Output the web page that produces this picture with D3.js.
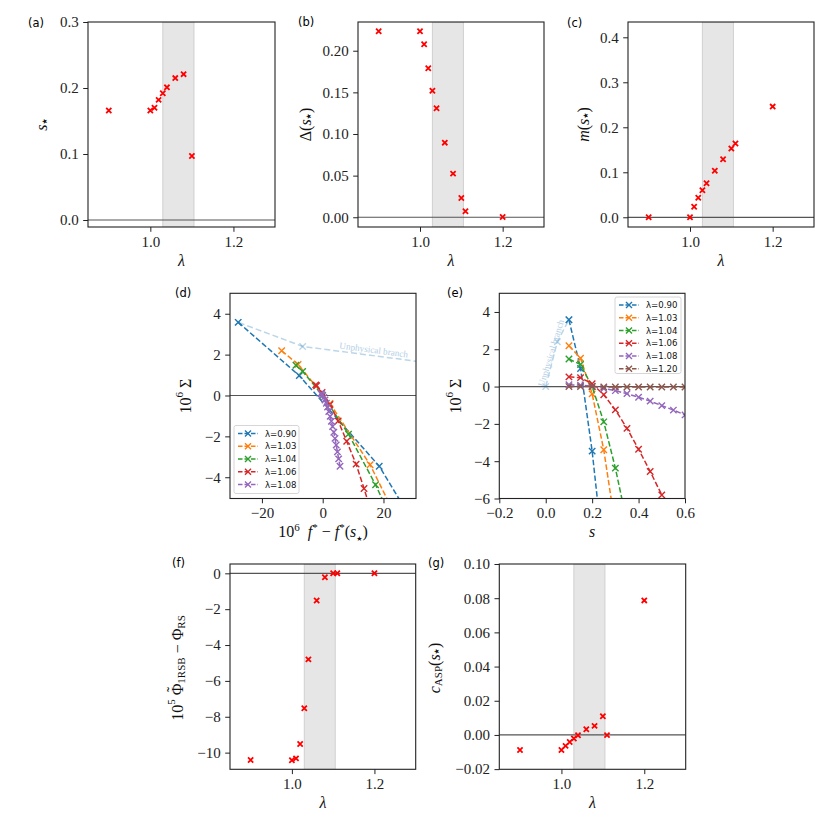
<!DOCTYPE html>
<html>
<head>
<meta charset="utf-8">
<script src="https://cdn.jsdelivr.net/npm/d3@7"></script>
<style>
body{margin:0;background:#fff}
</style>
</head>
<body>
<svg id="fig" width="830" height="830"></svg>
<script>
// ---- data ----
var lamA = [0.90, 1.00, 1.01, 1.02, 1.03, 1.04, 1.06, 1.08, 1.10];
var sStar = [0.166, 0.166, 0.170, 0.182, 0.192, 0.201, 0.215, 0.221, 0.097];

var lamB = [0.90, 1.00, 1.01, 1.02, 1.03, 1.04, 1.06, 1.08, 1.10, 1.11, 1.20];
var deltaS = [0.2233, 0.2233, 0.2077, 0.179, 0.152, 0.131, 0.0896, 0.0524, 0.0232, 0.0072, 0.0003];
var magS = [0.0, 0.0, 0.0236, 0.0436, 0.060, 0.0756, 0.1036, 0.129, 0.153, 0.164, 0.246];
var phiDiff = [-10.41, -10.43, -10.32, -9.52, -7.53, -4.80, -1.52, -0.22, 0.0, 0.0, 0.0];
var cAsp = [-0.0088, -0.0088, -0.0064, -0.0041, -0.0021, -0.0002, 0.0033, 0.0053, 0.0109, -0.0001, 0.0787];

var band = [1.03, 1.105];

// complexity curves: s, 10^6 Sigma, 10^6 (f* - f*(s*))
var s090 = [0.10, 0.15, 0.20, 0.25];
var sig090 = [3.58, 0.97, -3.46, -9.2];
var f090 = [-27.8, -7.7, 18.6, 42.0];

var s090u = [0.0, 0.05, 0.10];
var sig090u = [0.0, 2.40, 3.58];
var f090u = [117.0, -6.6, -27.8];

var s103 = [0.10, 0.15, 0.20, 0.25, 0.30];
var sig103 = [2.19, 1.52, -0.39, -3.39, -7.5];
var f103 = [-13.5, -8.1, 2.4, 15.6, 29.3];

var s104 = [0.10, 0.15, 0.20, 0.25, 0.30, 0.35];
var sig104 = [1.48, 1.18, 0.0, -1.89, -4.37, -7.3];
var f104 = [-8.8, -6.6, 0.0, 8.5, 17.4, 26.5];

var s106 = [0.10, 0.15, 0.20, 0.25, 0.30, 0.35, 0.40, 0.45, 0.50];
var sig106 = [0.52, 0.48, 0.15, -0.44, -1.25, -2.24, -3.36, -4.55, -5.81];
var f106 = [-2.3, -2.0, -0.2, 2.4, 5.1, 7.9, 11.0, 13.6, 16.2];

var s108 = [0.10, 0.15, 0.20, 0.25, 0.30, 0.35, 0.40, 0.45, 0.50, 0.55, 0.60, 0.65, 0.70, 0.75, 0.80, 0.85, 0.90];
var sig108 = [0.10, 0.08, 0.02, -0.10, -0.22, -0.38, -0.57, -0.78, -1.02, -1.26, -1.52, -1.80, -2.10, -2.42, -2.76, -3.10, -3.46];
var f108 = [-0.6, -0.4, -0.1, 0.35, 0.75, 1.2, 1.6, 2.0, 2.45, 2.85, 3.25, 3.65, 4.05, 4.45, 4.85, 5.25, 5.7];

var s120 = [0.10, 0.15, 0.20, 0.25, 0.30, 0.35, 0.40, 0.45, 0.50, 0.55, 0.60];
var sig120 = [0.0, 0.0, 0.0, -0.02, -0.02, -0.02, -0.02, -0.02, -0.02, -0.02, -0.02];

var curves = [
    {label: "λ=0.90", color: "#1f77b4", s: s090, sig: sig090, f: f090},
    {label: "λ=1.03", color: "#ff7f0e", s: s103, sig: sig103, f: f103},
    {label: "λ=1.04", color: "#2ca02c", s: s104, sig: sig104, f: f104},
    {label: "λ=1.06", color: "#d62728", s: s106, sig: sig106, f: f106},
    {label: "λ=1.08", color: "#9467bd", s: s108, sig: sig108, f: f108},
    {label: "λ=1.20", color: "#8c564b", s: s120, sig: sig120, f: null}
];
var unphys = {color: "rgba(31,119,180,0.3)", s: s090u, sig: sig090u, f: f090u};

// ---- helpers ----
var svg = d3.select("#fig");
var defs = svg.append("defs");
var SERIF = "'Liberation Serif','DejaVu Serif',serif";
var SANS = "'DejaVu Sans',sans-serif";

function xPath(r) {
    return "M" + (-r) + "," + (-r) + "L" + r + "," + r + "M" + (-r) + "," + r + "L" + r + "," + (-r);
}

function makePanel(o) {
    var x = d3.scaleLinear().domain(o.xd).range([o.l, o.r]);
    var y = d3.scaleLinear().domain(o.yd).range([o.b, o.t]);
    defs.append("clipPath").attr("id", o.id)
        .append("rect").attr("x", o.l).attr("y", o.t)
        .attr("width", o.r - o.l).attr("height", o.b - o.t);
    var g = svg.append("g");
    var plot = g.append("g").attr("clip-path", "url(#" + o.id + ")");
    return {g: g, plot: plot, x: x, y: y, o: o};
}

function finishPanel(p) {
    var o = p.o;
    var ax = p.g.append("g").attr("transform", "translate(0," + o.b + ")")
        .call(d3.axisBottom(p.x).tickValues(o.xt).tickFormat(o.xf).tickSize(4.8).tickPadding(4.5));
    var ay = p.g.append("g").attr("transform", "translate(" + o.l + ",0)")
        .call(d3.axisLeft(p.y).tickValues(o.yt).tickFormat(o.yf).tickSize(4.8).tickPadding(4.5));
    [ax, ay].forEach(function (a) {
        a.select(".domain").remove();
        a.attr("font-family", SERIF).attr("font-size", 15).attr("color", "#222");
        a.selectAll(".tick line").attr("stroke-width", 1);
    });
    p.g.append("rect").attr("x", o.l).attr("y", o.t)
        .attr("width", o.r - o.l).attr("height", o.b - o.t)
        .attr("fill", "none").attr("stroke", "#222").attr("stroke-width", 1.1);
    // panel tag
    p.g.append("text").attr("x", o.tag[0]).attr("y", o.tag[1])
        .attr("font-family", SANS).attr("font-size", 11.5).text(o.name);
}

// rich text with sub/superscripts; parts: {t, i, off(px, +down), size, font, tilde}
function richText(parent, x, y, parts, size, rotate) {
    var t = parent.append("text").attr("font-family", SERIF).attr("font-size", size)
        .attr("text-anchor", "middle").attr("fill", "#111");
    if (rotate) {
        t.attr("transform", "translate(" + x + "," + y + ") rotate(-90)")
            .attr("dominant-baseline", "central");
    } else {
        t.attr("x", x).attr("y", y);
    }
    var prev = 0, back = 0;
    parts.forEach(function (p) {
        var off = p.off || 0;
        var ts = t.append("tspan").text(p.t).attr("dy", off - prev);
        if (back) { ts.attr("dx", back); back = 0; }
        if (p.i) ts.style("font-style", "italic");
        if (p.size) ts.attr("font-size", p.size);
        if (p.font) ts.attr("font-family", p.font);
        prev = off;
        if (p.tilde) {
            // put a tilde accent centred over the glyph just written
            var w = ts.node().getComputedTextLength();
            var tl = t.append("tspan").text("˜").attr("dy", -4.5);
            var tw = tl.node().getComputedTextLength();
            tl.attr("dx", -(w + tw) / 2);
            prev = off - 4.5;
            back = (w - tw) / 2;
        }
    });
    return t;
}

function shade(p) {
    p.plot.append("rect")
        .attr("x", p.x(band[0])).attr("width", p.x(band[1]) - p.x(band[0]))
        .attr("y", p.o.t).attr("height", p.o.b - p.o.t)
        .attr("fill", "#e6e6e6").attr("stroke", "#d0d0d0").attr("stroke-width", 1);
}

function zeroLine(p) {
    p.plot.append("line")
        .attr("x1", p.o.l).attr("x2", p.o.r)
        .attr("y1", p.y(0)).attr("y2", p.y(0))
        .attr("stroke", "#555").attr("stroke-width", 1.2);
}

function redPoints(p, xs, ys) {
    p.plot.selectAll(null).data(xs).enter().append("path")
        .attr("d", xPath(2.6))
        .attr("transform", function (d, i) { return "translate(" + p.x(d) + "," + p.y(ys[i]) + ")"; })
        .attr("stroke", "red").attr("stroke-width", 1.8).attr("fill", "none");
}

function dashedCurve(p, xs, ys, color, dash) {
    var pts = xs.map(function (d, i) { return [d, ys[i]]; });
    var line = d3.line().x(function (d) { return p.x(d[0]); }).y(function (d) { return p.y(d[1]); });
    p.plot.append("path").datum(pts).attr("d", line)
        .attr("fill", "none").attr("stroke", color).attr("stroke-width", 1.5)
        .attr("stroke-dasharray", dash || "5.5,2.4");
    p.plot.selectAll(null).data(pts).enter().append("path")
        .attr("d", xPath(3.2))
        .attr("transform", function (d) { return "translate(" + p.x(d[0]) + "," + p.y(d[1]) + ")"; })
        .attr("stroke", color).attr("stroke-width", 1.4).attr("fill", "none");
}

function legend(g, x0, y0, w, h, items) {
    g.append("rect").attr("x", x0).attr("y", y0).attr("width", w).attr("height", h)
        .attr("rx", 2).attr("fill", "rgba(255,255,255,0.8)").attr("stroke", "#ccc").attr("stroke-width", 0.8);
    items.forEach(function (it, i) {
        var yy = y0 + 8 + i * 12.75;
        g.append("line").attr("x1", x0 + 4).attr("x2", x0 + 24).attr("y1", yy).attr("y2", yy)
            .attr("stroke", it.color).attr("stroke-width", 1.5).attr("stroke-dasharray", "4.5,2");
        g.append("path").attr("d", xPath(3)).attr("transform", "translate(" + (x0 + 14) + "," + yy + ")")
            .attr("stroke", it.color).attr("stroke-width", 1.4).attr("fill", "none");
        g.append("text").attr("x", x0 + 31).attr("y", yy + 3.2)
            .attr("font-family", SANS).attr("font-size", 8.6).attr("fill", "#111").text(it.label);
    });
}

var f1 = d3.format(".1f"), f2 = d3.format(".2f"), fi = d3.format("d");
var STAR = {t: "★", off: 3.5, size: 7, font: SANS};
var lamLabel = [{t: "λ", i: true}];
var lamDom = [0.85, 1.30];
var UNPHYS_TEXT = "#b4cfe6";

// ---- (a) ----
var pa = makePanel({id: "ca", name: "(a)", tag: [28, 27], l: 88, r: 275, t: 22, b: 227,
    xd: lamDom, yd: [-0.0106, 0.3], xt: [1.0, 1.2], yt: [0, 0.1, 0.2, 0.3], xf: f1, yf: f1});
shade(pa); zeroLine(pa); redPoints(pa, lamA, sStar); finishPanel(pa);
richText(pa.g, 181.5, 266, lamLabel, 16);
richText(pa.g, 41, 124.5, [{t: "s", i: true}, STAR], 16, true);

// ---- (b) ----
var pb = makePanel({id: "cb", name: "(b)", tag: [298, 26], l: 358, r: 544, t: 22, b: 227,
    xd: lamDom, yd: [-0.0117, 0.2345], xt: [1.0, 1.2], yt: [0, 0.05, 0.1, 0.15, 0.2], xf: f1, yf: f2});
shade(pb); zeroLine(pb); redPoints(pb, lamB, deltaS); finishPanel(pb);
richText(pb.g, 451, 266, lamLabel, 16);
richText(pb.g, 305, 124.5, [{t: "Δ("}, {t: "s", i: true}, STAR, {t: ")"}], 16, true);

// ---- (c) ----
var pc = makePanel({id: "cc", name: "(c)", tag: [567, 27], l: 628, r: 814, t: 22, b: 227,
    xd: lamDom, yd: [-0.0216, 0.434], xt: [1.0, 1.2], yt: [0, 0.1, 0.2, 0.3, 0.4], xf: f1, yf: f1});
shade(pc); zeroLine(pc); redPoints(pc, lamB, magS); finishPanel(pc);
richText(pc.g, 721, 266, lamLabel, 16);
richText(pc.g, 582.5, 124.5, [{t: "m", i: true}, {t: "("}, {t: "s", i: true}, STAR, {t: ")"}], 16, true);

// ---- (d) ----
var pd = makePanel({id: "cd", name: "(d)", tag: [175, 297], l: 230, r: 416, t: 293.3, b: 498.5,
    xd: [-30.5, 30.7], yd: [-5.04, 5.0], xt: [-20, 0, 20], yt: [-4, -2, 0, 2, 4], xf: fi, yf: fi});
zeroLine(pd);
dashedCurve(pd, unphys.f, unphys.sig, unphys.color, "6,3");
curves.filter(function (c) { return c.f; }).forEach(function (c) {
    dashedCurve(pd, c.f, c.sig, c.color);
});
pd.plot.append("text")
    .attr("transform", "translate(" + pd.x(5.4) + "," + pd.y(2.3) + ") rotate(7.5)")
    .attr("font-family", SERIF).attr("font-size", 9.2).attr("fill", UNPHYS_TEXT)
    .text("Unphysical branch");
legend(pd.g, 234, 425.5, 65, 68, curves.filter(function (c) { return c.f; }));
finishPanel(pd);
richText(pd.g, 323, 537, [{t: "10"}, {t: "6", off: -6, size: 11}, {t: "\u00a0\u00a0"}, {t: "f", i: true},
    {t: "*", off: -6, size: 11}, {t: " − "}, {t: "f", i: true}, {t: "*", off: -6, size: 11}, {t: "("},
    {t: "s", i: true}, STAR, {t: ")"}], 16);
richText(pd.g, 185, 396, [{t: "10"}, {t: "6", off: -6, size: 11}, {t: " Σ"}], 16, true);

// ---- (e) ----
var pe = makePanel({id: "ce", name: "(e)", tag: [447, 297], l: 499.3, r: 685, t: 293.3, b: 498.5,
    xd: [-0.2, 0.6], yd: [-6, 5], xt: [-0.2, 0, 0.2, 0.4, 0.6], yt: [-6, -4, -2, 0, 2, 4], xf: f1, yf: fi});
zeroLine(pe);
dashedCurve(pe, unphys.s, unphys.sig, unphys.color, "6,3");
curves.forEach(function (c) { dashedCurve(pe, c.s, c.sig, c.color); });
pe.plot.append("text")
    .attr("transform", "translate(" + pe.x(-0.008) + "," + pe.y(-0.02) + ") rotate(-73)")
    .attr("font-family", SERIF).attr("font-size", 9.2).attr("fill", UNPHYS_TEXT)
    .text("Unphysical branch");
legend(pe.g, 615, 297, 66, 76.5, curves);
finishPanel(pe);
richText(pe.g, 592, 537, [{t: "s", i: true}], 16);
richText(pe.g, 455, 396, [{t: "10"}, {t: "6", off: -6, size: 11}, {t: " Σ"}], 16, true);

// ---- (f) ----
var pf = makePanel({id: "cf", name: "(f)", tag: [172, 567], l: 230, r: 415.7, t: 564, b: 769.3,
    xd: lamDom, yd: [-10.93, 0.52], xt: [1.0, 1.2], yt: [-10, -8, -6, -4, -2, 0], xf: f1, yf: fi});
shade(pf); zeroLine(pf); redPoints(pf, lamB, phiDiff); finishPanel(pf);
richText(pf.g, 323, 808, lamLabel, 16);
richText(pf.g, 176.5, 668, [{t: "10"}, {t: "5", off: -6, size: 11}, {t: "\u00a0"}, {t: "Φ", tilde: true},
    {t: "1RSB", off: 4, size: 11}, {t: " − Φ"}, {t: "RS", off: 4, size: 11}], 16, true);

// ---- (g) ----
var pg = makePanel({id: "cg", name: "(g)", tag: [428, 567], l: 499.3, r: 685.7, t: 564, b: 769.3,
    xd: lamDom, yd: [-0.0201, 0.1], xt: [1.0, 1.2], yt: [-0.02, 0, 0.02, 0.04, 0.06, 0.08, 0.1], xf: f1, yf: f2});
shade(pg); zeroLine(pg); redPoints(pg, lamB, cAsp); finishPanel(pg);
richText(pg.g, 592.5, 808, lamLabel, 16);
richText(pg.g, 433.5, 668, [{t: "c", i: true}, {t: "ASP", off: 4, size: 11}, {t: "("}, {t: "s", i: true},
    STAR, {t: ")"}], 16, true);
</script>
</body>
</html>
